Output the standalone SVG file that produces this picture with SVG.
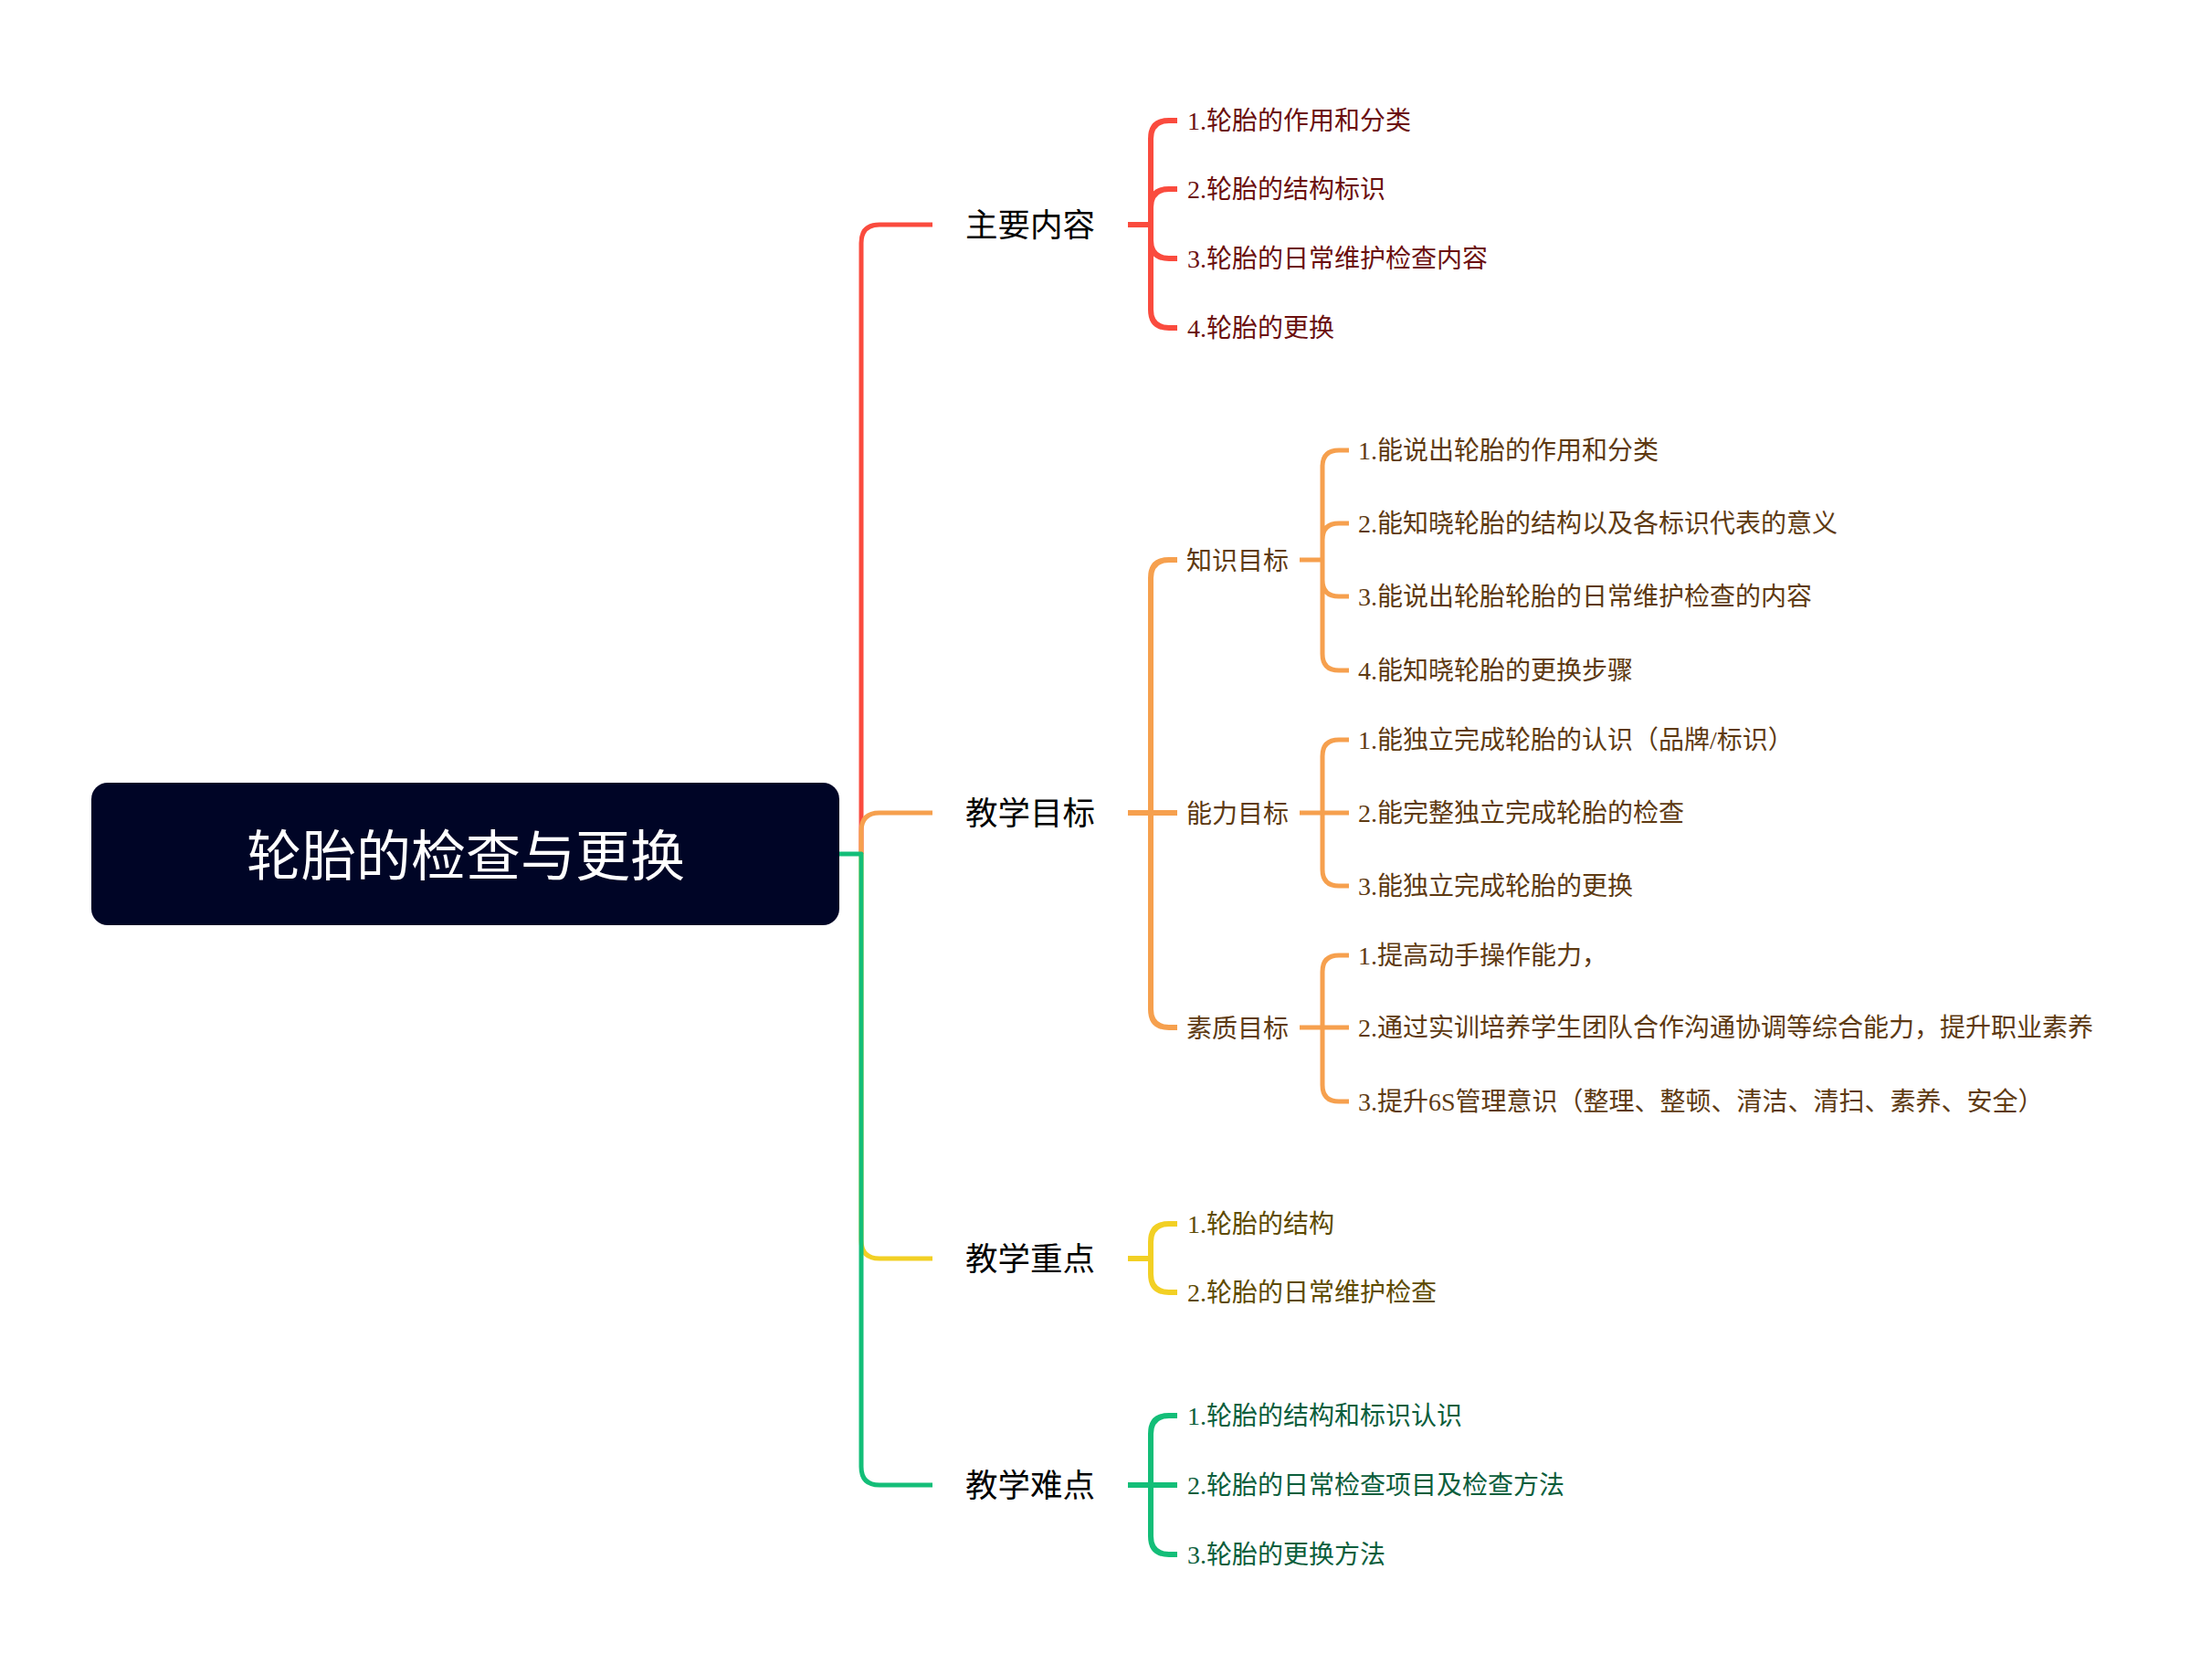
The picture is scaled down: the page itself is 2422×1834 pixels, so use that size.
<svg xmlns="http://www.w3.org/2000/svg" width="2422" height="1834" viewBox="0 0 2422 1834">
<style>
text{font-family:"Liberation Serif","Noto Sans CJK SC",serif;dominant-baseline:central}
.root{font-family:"Noto Sans CJK SC",sans-serif;font-size:60px;fill:#ffffff;text-anchor:middle}
.l1{font-family:"Noto Sans CJK SC",sans-serif;font-size:35.5px;fill:#000000}
.l2{font-family:"Noto Sans CJK SC",sans-serif;font-size:28px;fill:#5e3a12}
.leaf{font-size:28px}
.tr{fill:#6b0f0f}.to{fill:#5e3a12}.ty{fill:#5e4b00}.tg{fill:#0b5e3c}
.c{fill:none;stroke-linecap:butt;stroke-linejoin:round}
.w1{stroke-width:5}.w2{stroke-width:6}.w3{stroke-width:5}
.red{stroke:#fa4b3e}.org{stroke:#f6a04e}.yel{stroke:#f2d024}.grn{stroke:#13be78}
</style>
<rect width="2422" height="1834" fill="#ffffff"/>
<g id="connectors">
<path class="c w1 red" d="M943 935V266Q943 246 963 246H1021"/>
<path class="c w1 org" d="M943 935V910Q943 890 963 890H1021"/>
<path class="c w1 yel" d="M943 935V1358Q943 1378 963 1378H1021"/>
<path class="c w1 grn" d="M919 935H943V1606Q943 1626 963 1626H1021"/>
<path class="c w2 red" d="M1235 246H1260M1260 246V152Q1260 132 1280 132H1289M1260 246V227Q1260 207 1280 207H1289M1260 246V263Q1260 283 1280 283H1289M1260 246V339Q1260 359 1280 359H1289"/>
<path class="c w2 org" d="M1235 890H1289M1260 890V633Q1260 613 1280 613H1289M1260 890V1105Q1260 1125 1280 1125H1289"/>
<path class="c w3 org" d="M1423 613H1448M1448 613V511Q1448 493 1466 493H1477M1448 613V591Q1448 573 1466 573H1477M1448 613V635Q1448 653 1466 653H1477M1448 613V716Q1448 734 1466 734H1477"/>
<path class="c w3 org" d="M1423 890H1477M1448 890V828Q1448 810 1466 810H1477M1448 890V952Q1448 970 1466 970H1477"/>
<path class="c w3 org" d="M1423 1125H1477M1448 1125V1064Q1448 1046 1466 1046H1477M1448 1125V1188Q1448 1206 1466 1206H1477"/>
<path class="c w2 yel" d="M1235 1378H1260M1260 1378V1360Q1260 1340 1280 1340H1289M1260 1378V1395Q1260 1415 1280 1415H1289"/>
<path class="c w2 grn" d="M1235 1626H1289M1260 1626V1570Q1260 1550 1280 1550H1289M1260 1626V1682Q1260 1702 1280 1702H1289"/>
</g>
<g id="root">
<rect x="100" y="857" width="819" height="156" rx="18" fill="#000526"/>
<text class="root" x="510" y="932">轮胎的检查与更换</text>
</g>
<g id="n-main"><text class="l1" x="1057" y="243">主要内容</text></g>
<g id="n-goal"><text class="l1" x="1057" y="887">教学目标</text></g>
<g id="n-key"><text class="l1" x="1057" y="1375">教学重点</text></g>
<g id="n-hard"><text class="l1" x="1057" y="1623">教学难点</text></g>
<g id="n-main-1"><text class="leaf tr" x="1300" y="132">1.轮胎的作用和分类</text></g>
<g id="n-main-2"><text class="leaf tr" x="1300" y="207">2.轮胎的结构标识</text></g>
<g id="n-main-3"><text class="leaf tr" x="1300" y="283">3.轮胎的日常维护检查内容</text></g>
<g id="n-main-4"><text class="leaf tr" x="1300" y="359">4.轮胎的更换</text></g>
<g id="n-know"><text class="l2" x="1299" y="612">知识目标</text></g>
<g id="n-abil"><text class="l2" x="1299" y="889">能力目标</text></g>
<g id="n-qual"><text class="l2" x="1299" y="1124">素质目标</text></g>
<g id="n-know-1"><text class="leaf to" x="1487" y="493">1.能说出轮胎的作用和分类</text></g>
<g id="n-know-2"><text class="leaf to" x="1487" y="573">2.能知晓轮胎的结构以及各标识代表的意义</text></g>
<g id="n-know-3"><text class="leaf to" x="1487" y="653">3.能说出轮胎轮胎的日常维护检查的内容</text></g>
<g id="n-know-4"><text class="leaf to" x="1487" y="734">4.能知晓轮胎的更换步骤</text></g>
<g id="n-abil-1"><text class="leaf to" x="1487" y="810">1.能独立完成轮胎的认识（品牌/标识）</text></g>
<g id="n-abil-2"><text class="leaf to" x="1487" y="890">2.能完整独立完成轮胎的检查</text></g>
<g id="n-abil-3"><text class="leaf to" x="1487" y="970">3.能独立完成轮胎的更换</text></g>
<g id="n-qual-1"><text class="leaf to" x="1487" y="1046">1.提高动手操作能力，</text></g>
<g id="n-qual-2"><text class="leaf to" x="1487" y="1125">2.通过实训培养学生团队合作沟通协调等综合能力，提升职业素养</text></g>
<g id="n-qual-3"><text class="leaf to" x="1487" y="1206">3.提升6S管理意识（整理、整顿、清洁、清扫、素养、安全）</text></g>
<g id="n-key-1"><text class="leaf ty" x="1300" y="1340">1.轮胎的结构</text></g>
<g id="n-key-2"><text class="leaf ty" x="1300" y="1415">2.轮胎的日常维护检查</text></g>
<g id="n-hard-1"><text class="leaf tg" x="1300" y="1550">1.轮胎的结构和标识认识</text></g>
<g id="n-hard-2"><text class="leaf tg" x="1300" y="1626">2.轮胎的日常检查项目及检查方法</text></g>
<g id="n-hard-3"><text class="leaf tg" x="1300" y="1702">3.轮胎的更换方法</text></g>
</svg>
